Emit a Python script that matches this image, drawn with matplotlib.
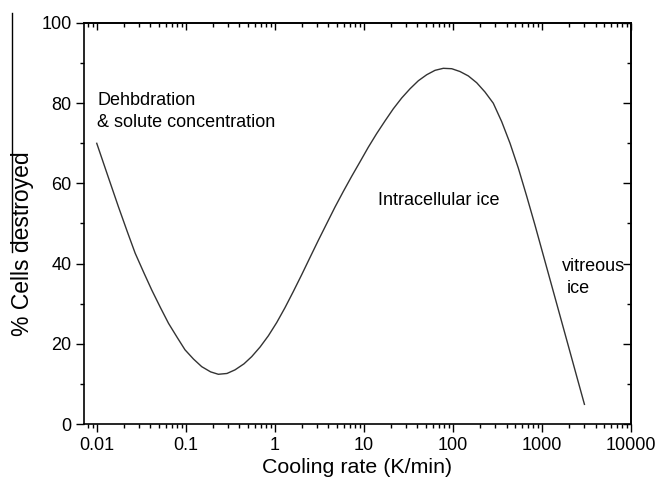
import matplotlib
matplotlib.use('Agg')
import matplotlib.pyplot as plt
from matplotlib.ticker import MultipleLocator, LogLocator, NullFormatter
from matplotlib.lines import Line2D

plt.rcParams['font.family'] = ['Liberation Sans', 'DejaVu Sans']

# cooling rate (K/min) and % cells destroyed
rate = [0.01, 0.0135, 0.0175, 0.022, 0.027, 0.034, 0.0415, 0.052, 0.064, 0.08,
        0.098, 0.122, 0.151, 0.19, 0.232, 0.29, 0.357, 0.45, 0.55, 0.683,
        0.846, 1.05, 1.3, 1.61, 2.0, 2.48, 3.08, 3.83, 4.74, 5.88,
        7.31, 9.06, 11.2, 13.9, 17.3, 21.4, 26.6, 33.0, 40.9, 50.8,
        63.0, 78.0, 97.0, 120, 149, 185, 229, 284, 353, 438,
        543, 674, 835, 1035, 1287, 1595, 1977, 2455, 3000]
destroyed = [70.0, 61.5, 54.2, 48.0, 42.6, 37.6, 33.4, 29.0, 25.1, 21.6,
             18.5, 16.2, 14.3, 13.0, 12.4, 12.6, 13.5, 15.0, 16.8, 19.2,
             22.0, 25.3, 29.0, 33.0, 37.2, 41.5, 45.8, 50.0, 54.1, 58.0,
             61.8, 65.4, 69.0, 72.4, 75.6, 78.6, 81.3, 83.6, 85.6, 87.1,
             88.2, 88.7, 88.6, 87.9, 86.8, 85.1, 82.8, 80.0, 75.4, 70.0,
             63.8, 56.8, 49.6, 42.1, 34.5, 27.0, 19.5, 11.9, 4.9]

xticks = [0.01, 0.1, 1, 10, 100, 1000, 10000]
xticklabels = ['0.01', '0.1', '1', '10', '100', '1000', '10000']
yticks = [0, 20, 40, 60, 80, 100]

fig = plt.figure(figsize=(6.58, 4.90), dpi=100)
ax = fig.add_axes([83.5 / 658, 66 / 490, (631 - 83.5) / 658, (424 - 23) / 490])

ax.plot(rate, destroyed, color='#333333', lw=1.0)

ax.set_xscale('log')
ax.set_xlim(0.0071, 10000)
ax.set_ylim(0, 100)
ax.set_xticks(xticks)
ax.set_xticklabels(xticklabels)
ax.xaxis.set_minor_locator(LogLocator(base=10, subs=range(2, 10), numticks=20))
ax.xaxis.set_minor_formatter(NullFormatter())
ax.set_yticks(yticks)
ax.yaxis.set_minor_locator(MultipleLocator(10))

for s in ax.spines.values():
    s.set_linewidth(1.2)

ax.tick_params(which='both', direction='out', width=1.0, labelsize=13, colors='black')
ax.tick_params(which='major', length=5.5)
ax.tick_params(which='minor', length=3)
ax.tick_params(axis='x', which='major', pad=4)
ax.tick_params(axis='y', which='major', pad=3)

# top and right axes: ticks pointing inward, no labels
top = ax.secondary_xaxis('top')
top.set_xticks(xticks)
top.xaxis.set_minor_locator(LogLocator(base=10, subs=range(2, 10), numticks=20))
top.tick_params(which='both', direction='in', width=1.0, labeltop=False)
top.tick_params(which='major', length=5)
top.tick_params(which='minor', length=2.6)
top.spines['top'].set_linewidth(1.2)

right = ax.secondary_yaxis('right')
right.set_yticks(yticks)
right.yaxis.set_minor_locator(MultipleLocator(10))
right.tick_params(which='both', direction='in', width=1.0, labelright=False)
right.tick_params(which='major', length=5.5)
right.tick_params(which='minor', length=3)
right.spines['right'].set_linewidth(1.2)

ax.text(0.0101, 79.6, 'Dehbdration', fontsize=13)
ax.text(0.0101, 74.1, '& solute concentration', fontsize=13)
ax.text(14.4, 54.6, 'Intracellular ice', fontsize=13)
ax.text(1658, 39.2, 'vitreous', fontsize=13, va='center')
ax.text(1897, 33.7, 'ice', fontsize=13, va='center')

fig.text(357 / 658, 1 - 467 / 490, 'Cooling rate (K/min)', fontsize=15.4,
         ha='center', va='center')
fig.text(22.5 / 658, 1 - 244 / 490, '% Cells destroyed', fontsize=16.5,
         rotation=90, ha='center', va='center')

# stray frame line at the left edge of the original panel
fig.add_artist(Line2D([11.5 / 658, 11.5 / 658], [1 - 13 / 490, 1 - 252 / 490],
                      color='black', lw=1.0))

fig.savefig('out.png', dpi=100)
